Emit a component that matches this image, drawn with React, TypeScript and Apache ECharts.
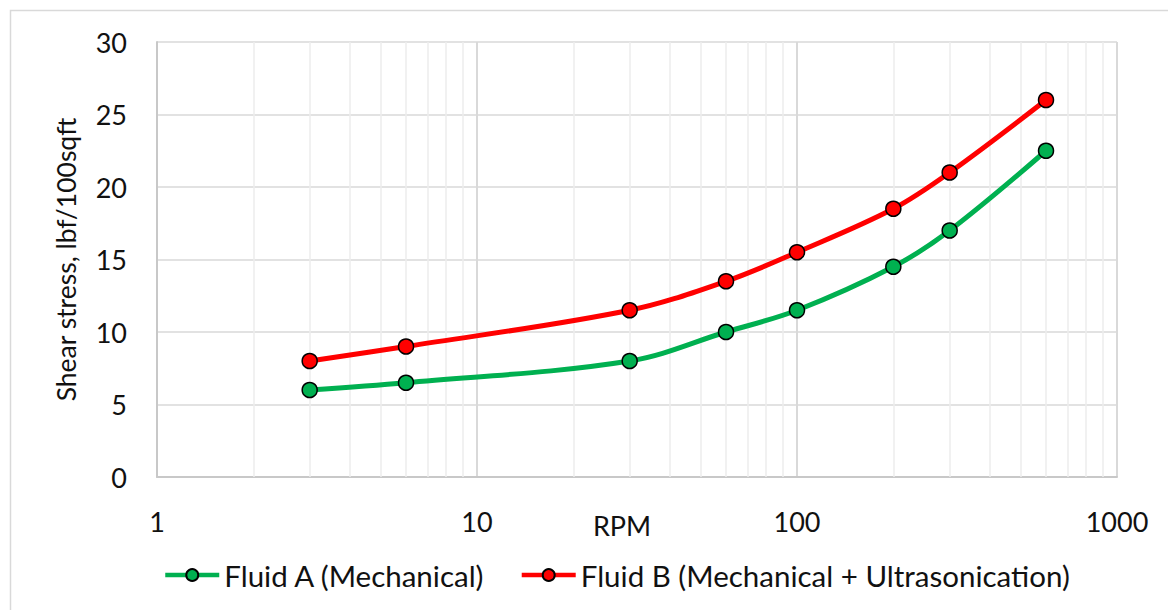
import React, { useEffect, useRef } from "react";
import * as echarts from "echarts";

const rpm = [3, 6, 30, 60, 100, 200, 300, 600];
const fluidA = [6, 6.5, 8, 10, 11.5, 14.5, 17, 22.5];
const fluidB = [8, 9, 11.5, 13.5, 15.5, 18.5, 21, 26];
const minorTicks = [2, 3, 4, 5, 6, 7, 8, 9, 20, 30, 40, 50, 60, 70, 80, 90, 200, 300, 400, 500, 600, 700, 800, 900];
const seriesNames = ["Fluid A (Mechanical)", "Fluid B (Mechanical + Ultrasonication)"];
const yAxisTitle = "Shear stress, lbf/100sqft";
const xAxisTitle = "RPM";

const FONT = "Lato, 'Open Sans', sans-serif";
const TEXT = "#111111";

export default function App() {
  const ref = useRef<HTMLDivElement>(null);
  useEffect(() => {
    document.body.style.margin = "0";
    const chart = echarts.init(ref.current!, null, { renderer: "svg" });
    const pairs = (ys: number[]) => rpm.map((x, i) => [x, ys[i]]);
    const lineSeries = (name: string, ys: number[], color: string) => ({
      name,
      type: "line",
      data: pairs(ys),
      smooth: 0.35,
      symbol: "circle",
      symbolSize: 15,
      z: 5,
      lineStyle: { color, width: 5 },
      itemStyle: { color, borderColor: "#000", borderWidth: 1.5 },
      emphasis: { disabled: true },
    });
    chart.setOption({
      animation: false,
      graphic: [
        {
          type: "rect",
          shape: { x: 10.5, y: 10.5, width: 1200, height: 700 },
          style: { fill: "none", stroke: "#d9d9d9", lineWidth: 1.5 },
          silent: true,
        },
      ],
      grid: { left: 157, top: 42, right: 51, bottom: 133, containLabel: false },
      legend: {
        bottom: 15,
        left: 158,
        itemWidth: 54,
        itemHeight: 15,
        itemGap: 34,
        data: seriesNames,
        lineStyle: { width: 4.5 },
        textStyle: { fontFamily: FONT, fontSize: 29.5, color: TEXT },
      },
      xAxis: {
        type: "log",
        logBase: 10,
        min: 1,
        max: 1000,
        name: xAxisTitle,
        nameLocation: "middle",
        nameGap: 35,
        nameMoveOverlap: false,
        nameTextStyle: { fontFamily: FONT, fontSize: 27, color: TEXT, padding: [0, 30, 0, 0] },
        axisLine: { show: true, lineStyle: { color: "#c8c8c8", width: 2 } },
        axisTick: { show: false },
        axisLabel: {
          fontFamily: FONT,
          fontSize: 27,
          color: TEXT,
          margin: 31,
          formatter: (v: number) => String(Math.round(v)),
        },
        splitLine: { show: true, lineStyle: { color: "#d9d9d9", width: 2 } },
        minorTick: { show: false },
      },
      yAxis: {
        type: "value",
        min: 0,
        max: 30,
        interval: 5,
        name: yAxisTitle,
        nameLocation: "middle",
        nameGap: 78,
        nameMoveOverlap: false,
        nameTextStyle: { fontFamily: FONT, fontSize: 26.5, color: TEXT },
        axisLine: { show: true, lineStyle: { color: "#c8c8c8", width: 2 } },
        axisTick: { show: false },
        axisLabel: { fontFamily: FONT, fontSize: 27, color: TEXT, margin: 30 },
        splitLine: { show: true, lineStyle: { color: "#d9d9d9", width: 1.5 } },
      },
      series: [
        {
          name: "minor",
          type: "line",
          data: [],
          z: 1,
          silent: true,
          markLine: {
            silent: true,
            symbol: "none",
            label: { show: false },
            lineStyle: { color: "#ececec", width: 1.5, type: "solid" },
            data: minorTicks.map((v) => ({ xAxis: v })),
          },
        },
        lineSeries(seriesNames[0], fluidA, "#00B050"),
        lineSeries(seriesNames[1], fluidB, "#FF0000"),
      ],
    });
    return () => chart.dispose();
  }, []);
  return <div ref={ref} style={{ width: 1168, height: 610 }} />;
}
